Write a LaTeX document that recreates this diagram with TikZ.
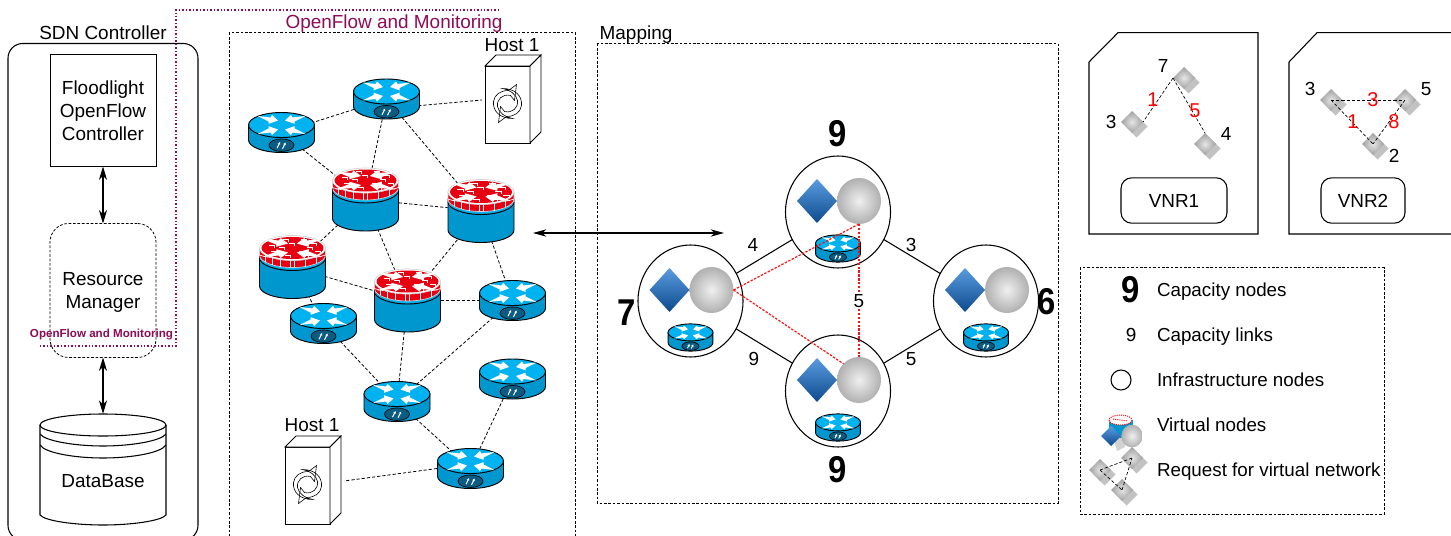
\documentclass[tikz,border=0pt]{standalone}
\usepackage{graphicx}
\usepackage{fontspec}
\setmainfont{Liberation Sans}
\usetikzlibrary{arrows.meta,shapes.geometric,shadows,calc}
\definecolor{rbody}{HTML}{0096CE}
\definecolor{rtop}{HTML}{00B2F0}
\definecolor{rbadge}{HTML}{0B5C82}
\definecolor{fwred}{HTML}{E60012}
\definecolor{omcol}{HTML}{8E0B55}
\definecolor{lred}{HTML}{FF1010}
\definecolor{bdtop}{HTML}{5A9BE0}
\definecolor{bdmid}{HTML}{2A6FB8}
\definecolor{bdbot}{HTML}{0C4A8C}
\newcommand{\xarrowshape}{(-24,-9) -- (-11,-7.5) -- (-9.5,-10) -- (-3.5,-4.5) -- (-13,-1.2) -- (-13,-3.5) -- cycle}
\newcommand{\xarrows}{%
  \foreach \sx/\sy in {1/1,-1/1,1/-1,-1/-1}{
    \fill[white,xscale=\sx,yscale=\sy] \xarrowshape;}}
\newcommand{\bigdigit}[1]{\scalebox{.88}[1]{#1}}
\tikzset{
  every node/.style={inner sep=0pt,outer sep=0pt},
  txt/.style={font=\fontsize{14.2}{17.2}\selectfont,align=center},
  ltxt/.style={font=\fontsize{14.1}{17}\selectfont,anchor=base west,yshift=-5.2pt},
  rednum/.style={font=\fontsize{15}{17}\selectfont,text=red},
  bignum/.style={font=\fontsize{28}{32}\bfseries\selectfont},
  dashline/.style={line width=.6pt,dash pattern=on 2.4pt off 1.5pt},
  boxdash/.style={line width=.6pt,dash pattern=on 2pt off 1.3pt},
  reddash/.style={line width=.9pt,lred,dash pattern=on 1.8pt off 1.1pt},
  omdot/.style={line width=1.3pt,omcol,dash pattern=on 1.1pt off 1.5pt},
  dblarrow/.style={line width=.8pt,{Stealth[length=10pt,width=6pt,inset=3pt]}-{Stealth[length=10pt,width=6pt,inset=3pt]}},
  rtrnode/.style={ellipse,minimum width=50.25pt,minimum height=31pt},
  fwnode/.style={ellipse,minimum width=50.25pt,minimum height=47pt},
  hostnode/.style={rectangle,minimum width=45pt,minimum height=65pt},
  vd/.style={diamond,minimum width=16.5pt,minimum height=16.5pt,inner color=gray!20,outer color=gray!75,general shadow={fill=gray!48,shadow xshift=3.4pt,shadow yshift=-3.4pt}},
  bd/.style={diamond,minimum width=30pt,minimum height=33pt,top color=bdtop,middle color=bdmid,bottom color=bdbot},
  sph/.style={ellipse,minimum width=33pt,minimum height=34.5pt,inner color=gray!12,outer color=gray!62},
  bigc/.style={ellipse,draw,line width=.8pt,minimum width=78.8pt,minimum height=84pt},
  router/.pic={
    \draw[line width=.7pt,fill=rbody] (-33,-7.5) -- (-33,7.5) .. controls (-33,14.5) and (-18,20) .. (0,20) .. controls (18,20) and (33,14.5) .. (33,7.5) -- (33,-7.5) -- cycle;
    \draw[line width=.7pt,fill=rtop] (0,-7.5) ellipse [x radius=33,y radius=12.5];
    \begin{scope}[shift={(0,-7.5)}]\xarrows\end{scope}
    \draw[line width=.5pt,fill=rbadge] (0,12.7) ellipse [x radius=12.5,y radius=6.3];
    \begin{scope}[shift={(0,12.7)}]
      \draw[white,line width=.7pt,-{Stealth[length=1.8pt,width=2pt]}] (-4.5,3) -- (-1.5,-3);
      \draw[white,line width=.7pt,-{Stealth[length=1.8pt,width=2pt]}] (1,3.5) -- (4,-2.5);
    \end{scope}
  },
  firewall/.pic={
    \draw[line width=.7pt,fill=rbody] (-33,-12) -- (-33,19) .. controls (-33,26) and (-18,31.5) .. (0,31.5) .. controls (18,31.5) and (33,26) .. (33,19) -- (33,-12) -- cycle;
    \draw[line width=.7pt] (-33,-9) .. controls (-33,-2.5) and (-18,3.5) .. (0,3.5) .. controls (18,3.5) and (33,-2.5) .. (33,-9);
    \fill[rtop] (-33,-10) .. controls (-33,-3.5) and (-18,2.5) .. (0,2.5) .. controls (18,2.5) and (33,-3.5) .. (33,-10) -- cycle;
    \filldraw[fill=fwred,draw=gray!35,line width=.5pt] (-33,-19) -- (-33,-12) .. controls (-33,-5) and (-18,.5) .. (0,.5) .. controls (18,.5) and (33,-5) .. (33,-12) -- (33,-19) -- cycle;
    \foreach \wx/\wy in {-27/-5.5,-20/-2.5,-12/-.5,-2/0,2/0,13/-.5,24/-4}{
      \draw[white,line width=.5pt] (\wx,\wy) -- (\wx,\wy-8);}
    \draw[white,line width=.5pt] (-33,-12) .. controls (-20,-7) and (20,-7) .. (33,-12);
    \filldraw[fill=white,draw=gray!35,line width=.5pt] (0,-19) ellipse [x radius=33,y radius=12.5];
    \fill[fwred] (0,-19) ellipse [x radius=31,y radius=11];
    \begin{scope}[shift={(0,-19)}]
      \begin{scope}[xscale=1.25,yscale=1]\xarrows\end{scope}
      \foreach \bx/\by in {-24/-3,-10/-9,8/-9,18/-5,-22/3,-8/7,10/7,22/3,-4/-5,6/3,-14/-1,14/-1}{
        \draw[white,line width=.7pt] (\bx,\by) -- ++(6,0) -- ++(0,2.5);}
    \end{scope}
  },
  host/.pic={
    \draw[line width=.7pt,fill=white] (-22.5,-38.5) rectangle (22.5,38.5);
    \draw[line width=.7pt,fill=white] (-22.5,-38.5) -- (-11.5,-49.5) -- (33.5,-49.5) -- (22.5,-38.5) -- cycle;
    \draw[line width=.7pt,fill=white] (22.5,-38.5) -- (33.5,-49.5) -- (33.5,27.5) -- (22.5,38.5) -- cycle;
    \begin{scope}[shift={(0,-1)},line width=.45pt]
      \foreach \rr in {0,180}{
        \draw[rotate=\rr] (5,15) .. controls (-7,15) and (-15,8) .. (-14,-2) .. controls (-13,-9) and (-7,-13) .. (1,-13) -- (9,-19) -- (7,-3) -- (3,-8) .. controls (-5,-10) and (-11,-4) .. (-10,3) .. controls (-9,9) and (-2,14) .. (5,15) -- cycle;}
    \end{scope}
  },
}
\newcommand{\mapnode}[3]{%
  \node[bigc] (#1) at (#2,#3) {};
  \node[bd] (#1-d) at (#2-21,#3-11) {};
  \node[sph] (#1-s) at (#2+21,#3-11) {};
  \pic[scale=.68] at (#2,#3+36.5) {router};
}
\begin{document}
\begin{tikzpicture}[x=.75pt,y=-.75pt]
\useasboundingbox (0,0) rectangle (1451,535);
\clip (0,0) rectangle (1451,535);
\fill[white] (0,0) rectangle (1451,535);

% SDN controller
\draw[line width=.8pt,rounded corners=11pt] (8,43.5) rectangle (198,540);
\node[txt] (sdn) at (103,33) {SDN Controller};
\node[draw,line width=.7pt,minimum width=79.5pt,minimum height=84pt,txt] (flood) at (103,110.5) {Floodlight\\OpenFlow\\Controller};
\node[draw,boxdash,rounded corners=14pt,minimum width=79.5pt,minimum height=100.5pt,txt] (rm) at (103,290.5) {};
\node[txt] (rmt) at (103,292.5) {Resource\\Manager};
% database
\node[minimum width=94.5pt,minimum height=83.5pt] (db) at (103,469.5) {};
\draw[line width=.8pt] (40,425) -- (40,515) .. controls (45,521) and (75,525) .. (103,525) .. controls (131,525) and (161,521) .. (166,515) -- (166,425);
\draw[line width=.8pt] (103,425) ellipse [x radius=63,y radius=11];
\draw[line width=.8pt] (40,434) .. controls (45,441) and (75,446) .. (103,446) .. controls (131,446) and (161,441) .. (166,434);
\draw[line width=.8pt] (40,445) .. controls (45,453) and (75,458) .. (103,458) .. controls (131,458) and (161,453) .. (166,445);
\node[txt] (dbt) at (103,481) {DataBase};
\draw[dblarrow] (flood) -- (rm);
\draw[dblarrow] (rm) -- (db);

% OpenFlow dotted
\coordinate (om1) at (40,346);
\coordinate (om2) at (176,346);
\coordinate (om3) at (176,10);
\coordinate (om4) at (500,10);
\draw[omdot] (om1) -- (om2) -- (om3) -- (om4);
\node[font=\fontsize{8.7}{10}\bfseries\selectfont,text=omcol] (oms) at (101.5,335) {OpenFlow and Monitoring};
\node[txt,text=omcol] (oml) at (394,23.5) {OpenFlow and Monitoring};

% Network box
\draw[boxdash] (229,32.5) rectangle (575,545);
\node[txt] (h1t) at (512,45) {Host 1};
\node[txt] (h2t) at (312,425) {Host 1};

\node[rtrnode] (r1) at (386.5,99) {};
\node[rtrnode] (r2) at (281.5,132.5) {};
\node[rtrnode] (r3) at (512.5,300.5) {};
\node[rtrnode] (r4) at (323.5,323.5) {};
\node[rtrnode] (r5) at (397,401.5) {};
\node[rtrnode] (r6) at (512.5,379) {};
\node[rtrnode] (r7) at (470.5,468.5) {};
\node[fwnode] (f1) at (365.5,199.5) {};
\node[fwnode] (f2) at (481,211) {};
\node[fwnode] (f3) at (292.5,267) {};
\node[fwnode] (f4) at (407.5,300.5) {};
\node[hostnode] (h1) at (512,100) {};
\node[hostnode] (h2) at (314,481) {};

\foreach \a/\b in {r2/r1,r1/f1,r1/f2,r2/f1,f1/f2,f1/f3,f1/f4,f2/f4,f2/r3,f3/f4,f3/r4,f4/r3,r3/r5,f4/r5,r4/r5,r5/r7,r6/r7}{
  \draw[dashline] (\a) -- (\b);}
\draw[dashline] (r1.-12) -- (h1.west);
\draw[dashline] (r7.west) -- (h2.east);

\foreach \px/\py in {386.5/99,281.5/132.5,512.5/300.5,323.5/323.5,397/401.5,512.5/379,470.5/468.5}{
  \pic at (\px,\py) {router};}
\foreach \px/\py in {365.5/199.5,481/211,292.5/267,407.5/300.5}{
  \pic at (\px,\py) {firewall};}
\pic at (507.5,104.5) {host};
\pic at (307.5,485.5) {host};

% Central arrow
\coordinate (ma) at (533,233);
\coordinate (mb) at (724,233);
\draw[line width=.8pt,{Stealth[length=10pt,width=5.5pt,inset=3pt]}-{Stealth[length=10pt,width=5.5pt,inset=3pt]}] (ma) -- (mb);

% Mapping
\draw[boxdash] (597,43.5) rectangle (1058,503);
\node[txt] (mapt) at (636,34.5) {Mapping};
\mapnode{mt}{838}{212}
\mapnode{ml}{690.5}{301}
\mapnode{mr}{986}{301}
\mapnode{mb2}{838}{391}
\draw[line width=.8pt] (ml) -- (mt);
\draw[line width=.8pt] (mt) -- (mr);
\draw[line width=.8pt] (ml) -- (mb2);
\draw[line width=.8pt] (mb2) -- (mr);
\draw[reddash] (ml-s.east) -- (mt-s.south);
\draw[reddash] (ml-s.east) -- (mb2-s.north west);
\draw[reddash] (mt-s.south) -- (mb2-s.north);
\node[txt] (l4) at (753,245) {4};
\node[txt] (l3) at (911,245) {3};
\node[txt] (l9) at (754,359) {9};
\node[txt] (l5) at (911,359) {5};
\node[txt,fill=white,inner sep=1pt] (l5b) at (859,301) {5};
\node[bignum] (n9t) at (838,134) {\bigdigit{9}};
\node[bignum] (n7) at (627,313) {\bigdigit{7}};
\node[bignum] (n6) at (1047,302) {\bigdigit{6}};
\node[bignum] (n9b) at (838,470) {\bigdigit{9}};

% VNR1
\draw[line width=.8pt] (1089,62) -- (1118,32.7) -- (1258,32.7) -- (1258,234) -- (1089,234) -- cycle;
\node[vd] (a7) at (1184,78) {};
\node[vd] (a3) at (1132,122) {};
\node[vd] (a4) at (1205,144) {};
\draw[dashline,line width=.5pt] (a7.west) -- (a3.east);
\draw[dashline,line width=.5pt] (a7.west) -- (a4.north);
\node[txt] (a7t) at (1163,66) {7};
\node[txt] (a3t) at (1111,122) {3};
\node[txt] (a4t) at (1226,134) {4};
\node[rednum] (a1r) at (1153,100) {1};
\node[rednum] (a5r) at (1195,111) {5};
\node[draw,line width=.8pt,rounded corners=8pt,minimum width=79.5pt,minimum height=34pt,txt] (vnr1) at (1174,200.5) {VNR1};

% VNR2
\draw[line width=.8pt] (1458,234) -- (1289,234) -- (1289,62) -- (1317,32.7) -- (1458,32.7);
\node[vd] (b3) at (1331,100) {};
\node[vd] (b5) at (1405,100) {};
\node[vd] (b2) at (1373,144) {};
\draw[dashline,line width=.5pt] (b3.center) -- (b5.center);
\draw[dashline,line width=.5pt] (b3.center) -- (b2.center);
\draw[dashline,line width=.5pt] (b5.center) -- (b2.center);
\node[txt] (b3t) at (1310,89) {3};
\node[txt] (b5t) at (1426,89) {5};
\node[txt] (b2t) at (1394,156) {2};
\node[rednum] (b3r) at (1373,100) {3};
\node[rednum] (b1r) at (1353,122) {1};
\node[rednum] (b8r) at (1394,122) {8};
\node[draw,line width=.8pt,rounded corners=8pt,minimum width=63pt,minimum height=34pt,txt] (vnr2) at (1363,200.5) {VNR2};

% Legend
\draw[boxdash] (1080,267.5) rectangle (1384,514);
\node[bignum] (g9) at (1131,290) {\bigdigit{9}};
\node[txt] (g9s) at (1131,335) {9};
\node[ellipse,draw,line width=.8pt,minimum width=15pt,minimum height=15pt] (gc) at (1121,380) {};
\node[ltxt] (t1) at (1157,290) {Capacity nodes};
\node[ltxt] (t2) at (1157,335) {Capacity links};
\node[ltxt] (t3) at (1157,380) {Infrastructure nodes};
\node[ltxt] (t4) at (1157,425) {Virtual nodes};
\node[ltxt] (t5) at (1157,470) {Request for virtual network};
% legend virtual icon
\fill[gray!35] (1113,436) -- (1125,436) -- (1125,447) -- (1117,451) -- cycle;
\fill[rbody] (1109,420) rectangle (1133,438);
\fill[white] (1120.5,420) ellipse [x radius=11.5,y radius=5];
\draw[red,line width=.7pt,dash pattern=on .8pt off .8pt] (1120.5,420) ellipse [x radius=11.5,y radius=5];
\draw[red,line width=.7pt,dash pattern=on .8pt off .8pt] (1113,419) -- (1128,421);
\node[diamond,minimum width=15pt,minimum height=15pt,top color=bdtop,middle color=bdmid,bottom color=bdbot] (gd) at (1111,436) {};
\node[ellipse,minimum width=16pt,minimum height=17pt,inner color=gray!12,outer color=gray!62] (gs) at (1132,436) {};
% legend request icon
\node[vd] (q1) at (1132,458) {};
\node[vd] (q2) at (1100,470) {};
\node[vd] (q3) at (1122,490) {};
\draw[dashline,line width=.5pt] (q1.center) -- (q2.center);
\draw[dashline,line width=.5pt] (q2.center) -- (q3.center);
\draw[dashline,line width=.5pt] (q3.center) -- (q1.center);
\end{tikzpicture}
\end{document}
